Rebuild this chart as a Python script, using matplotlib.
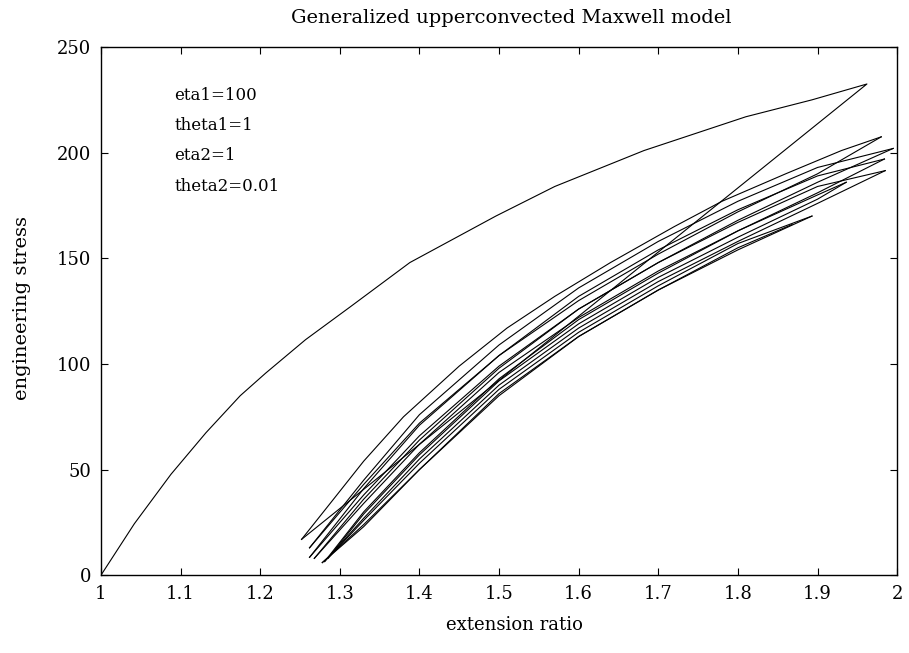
import matplotlib
matplotlib.use("Agg")
import matplotlib.pyplot as plt

# ===== DATA =====

# first loading curve, then straight drop to start of cycling
main_x = [1.0, 1.042, 1.088, 1.132, 1.175, 1.207, 1.257, 1.313, 1.388, 1.496,
          1.570, 1.682, 1.810, 1.893, 1.962, 1.252]
main_y = [0.0, 24.4, 47.8, 67.5, 85.0, 95.7, 111.5, 127.0, 148.0, 170.0,
          184.0, 201.0, 217.0, 225.0, 232.5, 17.0]

# cycling: each entry is one branch (left tip -> right tip, or back)
loop_x = [
    [1.252, 1.29, 1.33, 1.38, 1.45, 1.51, 1.57, 1.64, 1.72, 1.78, 1.86, 1.93, 1.98],
    [1.98, 1.9, 1.8, 1.7, 1.6, 1.5, 1.4, 1.33, 1.262],
    [1.262, 1.33, 1.4, 1.5, 1.6, 1.7, 1.8, 1.9, 1.995],
    [1.995, 1.9, 1.8, 1.7, 1.6, 1.5, 1.4, 1.33, 1.262],
    [1.262, 1.33, 1.4, 1.5, 1.6, 1.7, 1.8, 1.9, 1.984],
    [1.984, 1.9, 1.8, 1.7, 1.6, 1.5, 1.4, 1.33, 1.268],
    [1.268, 1.33, 1.4, 1.5, 1.6, 1.7, 1.8, 1.9, 1.985],
    [1.985, 1.9, 1.8, 1.7, 1.6, 1.5, 1.4, 1.33, 1.281],
    [1.281, 1.33, 1.4, 1.5, 1.6, 1.7, 1.8, 1.9, 1.936],
    [1.936, 1.9, 1.8, 1.7, 1.6, 1.5, 1.4, 1.33, 1.285],
    [1.285, 1.33, 1.4, 1.5, 1.6, 1.7, 1.8, 1.893],
    [1.893, 1.8, 1.7, 1.6, 1.5, 1.4, 1.33, 1.278],
    [1.278, 1.33, 1.4, 1.5, 1.6, 1.7, 1.8, 1.868],
]
loop_y = [
    [17.0, 35.0, 54.0, 75.0, 99.0, 117.0, 132.0, 148.0, 165.0, 177.0, 190.0, 201.0, 207.5],
    [207.5, 190.0, 172.0, 152.0, 130.0, 104.0, 72.0, 43.0, 13.0],
    [13.0, 45.0, 76.0, 109.0, 136.0, 158.0, 177.0, 193.0, 202.0],
    [202.0, 186.0, 168.0, 148.0, 126.0, 99.0, 66.0, 38.0, 8.5],
    [8.5, 41.0, 71.0, 104.0, 132.0, 154.0, 173.0, 189.0, 197.0],
    [197.0, 181.0, 163.0, 144.0, 122.0, 96.0, 62.0, 34.0, 8.0],
    [8.0, 36.0, 64.0, 98.0, 126.0, 148.0, 167.0, 184.0, 191.5],
    [191.5, 176.0, 158.0, 139.0, 117.0, 90.0, 55.0, 27.0, 6.5],
    [6.5, 30.0, 58.0, 93.0, 121.0, 143.0, 163.0, 180.0, 186.0],
    [186.0, 178.0, 160.0, 141.0, 119.0, 92.0, 57.0, 29.0, 8.0],
    [8.0, 26.0, 53.0, 88.0, 115.0, 137.0, 157.0, 170.0],
    [170.0, 154.0, 135.0, 113.0, 86.0, 50.0, 23.0, 6.0],
    [6.0, 24.0, 50.0, 85.0, 113.0, 135.0, 155.0, 166.0],
]

params = ["eta1=100", "theta1=1", "eta2=1", "theta2=0.01"]
param_y = [227, 213, 198.5, 184]

x_ticks = [1, 1.1, 1.2, 1.3, 1.4, 1.5, 1.6, 1.7, 1.8, 1.9, 2]
x_labels = ["1", "1.1", "1.2", "1.3", "1.4", "1.5", "1.6", "1.7", "1.8", "1.9", "2"]
y_ticks = [0, 50, 100, 150, 200, 250]

# ===== PLOT =====
plt.rcParams["font.family"] = "DejaVu Serif"

fig = plt.figure(figsize=(9.09, 6.53), dpi=100)
ax = fig.add_axes([0.111, 0.119, 0.876, 0.809])

ax.plot(main_x, main_y, color="black", lw=0.8)
for xs, ys in zip(loop_x, loop_y):
    ax.plot(xs, ys, color="black", lw=0.8)

for txt, yy in zip(params, param_y):
    ax.text(1.092, yy, txt, fontsize=12, va="center", ha="left")

ax.set_xlim(1, 2)
ax.set_ylim(0, 250)
ax.set_xticks(x_ticks)
ax.set_xticklabels(x_labels)
ax.set_yticks(y_ticks)
ax.tick_params(direction="in", length=5, width=0.8, top=True, right=True,
               labelsize=13, pad=7)
for s in ax.spines.values():
    s.set_linewidth(1.0)

fig.text(0.562, 0.972, "Generalized upperconvected Maxwell model",
         fontsize=14, ha="center", va="center")
fig.text(0.566, 0.043, "extension ratio", fontsize=13, ha="center", va="center")
fig.text(0.024, 0.528, "engineering stress", fontsize=14, ha="center",
         va="center", rotation=90)

fig.savefig("out.png", dpi=100)
